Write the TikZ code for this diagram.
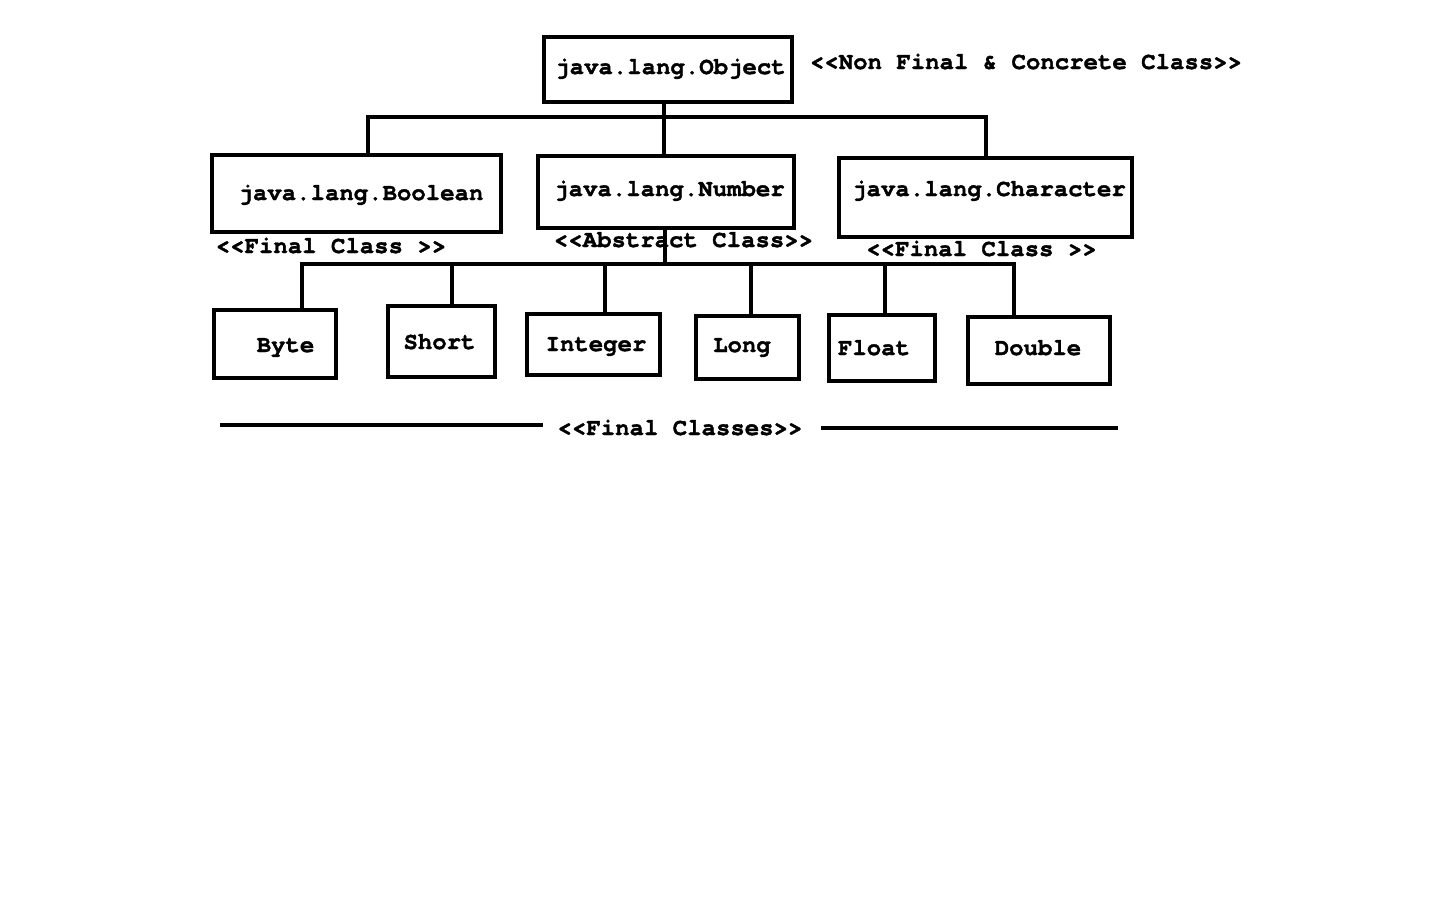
\documentclass[tikz,border=0pt]{standalone}
\usepackage{fontspec}
\newfontfamily\courfont{TeX Gyre Cursor}[BoldFeatures={FakeBold=1.5}]
\begin{document}
\begin{tikzpicture}[x=1pt,y=-1pt,
  cls/.style={draw, line width=4pt, inner sep=0pt, fill=white},
  lbl/.style={font=\courfont\bfseries\fontsize{24}{28}\selectfont, inner sep=0pt, text height=14pt, text depth=0pt},
  conn/.style={line width=4pt}]
\useasboundingbox[fill=white] (0,0) rectangle (1440,900);
% boxes
\node[cls, minimum width=248pt, minimum height=65pt,
  label={[lbl, xshift=2.5pt, yshift=2.5pt]center:java.lang.Object}] (obj) at (668,69.5) {};
\node[cls, minimum width=289pt, minimum height=77pt,
  label={[lbl, xshift=4.5pt, yshift=0.5pt]center:java.lang.Boolean}] (bool) at (356.5,193.5) {};
\node[cls, minimum width=256pt, minimum height=72pt,
  label={[lbl, xshift=3.5pt, yshift=3pt]center:java.lang.Number}] (num) at (666,192) {};
\node[cls, minimum width=293pt, minimum height=79pt,
  label={[lbl, xshift=3.5pt, yshift=8.5pt]center:java.lang.Character}] (char) at (985.5,197.5) {};
\node[cls, minimum width=122pt, minimum height=68pt,
  label={[lbl, xshift=10.5pt, yshift=-1pt]center:Byte}] (byte) at (275,344) {};
\node[cls, minimum width=107pt, minimum height=71pt,
  label={[lbl, xshift=-2pt, yshift=-0.5pt]center:Short}] (short) at (441.5,341.5) {};
\node[cls, minimum width=133pt, minimum height=61pt,
  label={[lbl, xshift=2.5pt, yshift=0.5pt]center:Integer}] (int) at (593.5,344.5) {};
\node[cls, minimum width=103pt, minimum height=63pt,
  label={[lbl, xshift=-5.5pt, yshift=2.5pt]center:Long}] (long) at (747.5,347.5) {};
\node[cls, minimum width=106pt, minimum height=66pt,
  label={[lbl, xshift=-8pt, yshift=0pt]center:Float}] (float) at (882,348) {};
\node[cls, minimum width=142pt, minimum height=67pt,
  label={[lbl, xshift=-1pt, yshift=2.5pt]center:Double}] (double) at (1039,350.5) {};
% free labels
\node[lbl] (nfc) at (1026,62) {<<Non Final \& Concrete Class>>};
\node[lbl] (fcl) at (331,246) {<<Final Class >>};
\node[lbl] (abs) at (683.5,240) {<<Abstract Class>>};
\node[lbl] (fcr) at (981.5,249) {<<Final Class >>};
\node[lbl] (fcs) at (680,428) {<<Final Classes>>};
% connector points
\coordinate (t1) at (664,117);
\coordinate (b1L) at (368,117);
\coordinate (b1R) at (986,117);
\coordinate (t2) at (665,264);
\coordinate (bByte) at (302,264);
\coordinate (bShort) at (452,264);
\coordinate (bInt) at (605,264);
\coordinate (bLong) at (751,264);
\coordinate (bFloat) at (885,264);
\coordinate (bDouble) at (1014,264);
% object tree
\draw[conn] (obj.south -| t1) -- (t1 |- num.north);
\draw[conn] (b1L |- bool.north) -- (b1L) -- (b1R) -- (b1R |- char.north);
% number tree
\draw[conn] ([yshift=2pt]num.south -| t2) -- (t2);
\draw[conn] (bByte |- byte.north) -- (bByte) -- (bDouble) -- ([yshift=-1pt]bDouble |- double.north);
\draw[conn] (bShort) -- (bShort |- short.north);
\draw[conn] (bInt) -- ([yshift=-4pt]bInt |- int.north);
\draw[conn] (bLong) -- (bLong |- long.north);
\draw[conn] (bFloat) -- ([yshift=-3pt]bFloat |- float.north);
% final classes lines
\coordinate (fl1) at (220,425);
\coordinate (fl2) at (1118,428);
\draw[conn] (fl1) -- ([xshift=-14pt]fcs.west |- fl1);
\draw[conn] ([xshift=18pt]fcs.east |- fl2) -- (fl2);
\end{tikzpicture}
\end{document}
